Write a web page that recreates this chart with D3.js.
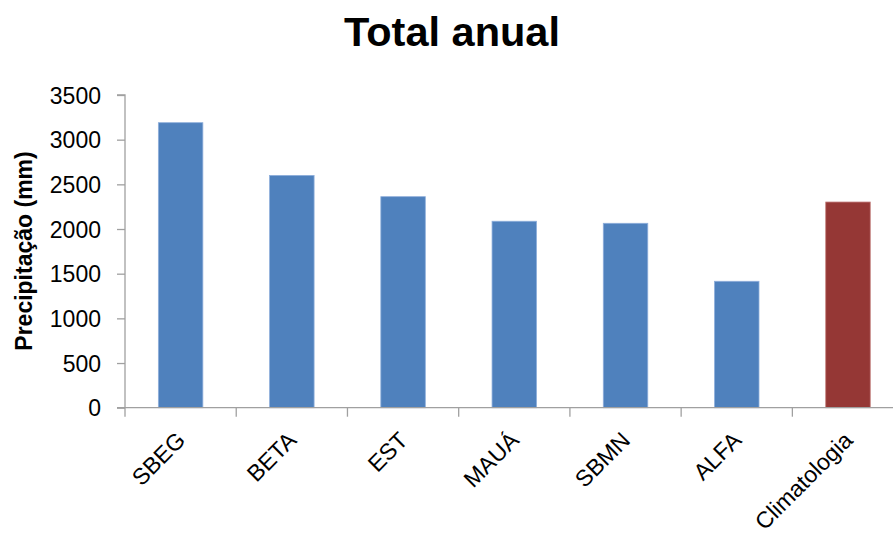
<!DOCTYPE html>
<html>
<head>
<meta charset="utf-8">
<script src="https://cdn.jsdelivr.net/npm/d3@7/dist/d3.min.js"></script>
<style>
  html, body { margin: 0; padding: 0; background: #fff; }
  svg { display: block; }
</style>
</head>
<body>
<svg id="chart" width="893" height="534"></svg>
<script>
const categories = ["SBEG", "BETA", "EST", "MAUÁ", "SBMN", "ALFA", "Climatologia"];
const values = [3190, 2600, 2362, 2087, 2064, 1415, 2302];
const barColors = ["#4F81BD", "#4F81BD", "#4F81BD", "#4F81BD", "#4F81BD", "#4F81BD", "#953735"];
const yTicks = [0, 500, 1000, 1500, 2000, 2500, 3000, 3500];
const title = "Total anual";
const yLabel = "Precipitação (mm)";

(function () {
const svg = d3.select("#chart");
const font = "'Liberation Sans', Arial, sans-serif";

const pLeft = 125, pRight = 903.6, pTop = 95, pBottom = 407.7;

const x = d3.scaleBand().domain(categories).range([pLeft, pRight]).paddingInner(0.6).paddingOuter(0.3);
const y = d3.scaleLinear().domain([0, 3500]).range([pBottom, pTop]);

// bars
svg.append("g").selectAll("rect").data(categories).join("rect")
  .attr("x", d => x(d))
  .attr("width", x.bandwidth())
  .attr("y", (d, i) => y(values[i]))
  .attr("height", (d, i) => y(0) - y(values[i]))
  .attr("fill", (d, i) => barColors[i])
  .attr("stroke", (d, i) => i === 6 ? "#c07a78" : "#8eaedb")
  .attr("stroke-width", 0.8);

// y axis
const yAxis = d3.axisLeft(y).tickValues(yTicks).tickSize(8).tickPadding(16).tickFormat(d3.format("d"));
const gy = svg.append("g").attr("transform", `translate(${pLeft},0)`).call(yAxis);
gy.select(".domain").attr("stroke", "#a0a0a0").attr("stroke-width", 1.3).attr("d", `M-8,${pTop}H0V${pBottom}`);
gy.selectAll(".tick line").attr("stroke", "#a0a0a0").attr("stroke-width", 1.3);
gy.selectAll(".tick text").attr("font-family", font).attr("font-size", 23).attr("fill", "#000").attr("dy", "0.36em");

// x axis
const xAxisG = svg.append("g").attr("transform", `translate(0,${pBottom})`);
xAxisG.append("line").attr("x1", pLeft - 8).attr("x2", 893).attr("y1", 0).attr("y2", 0)
  .attr("stroke", "#a0a0a0").attr("stroke-width", 1.3);
const boundaries = d3.range(categories.length + 1).map(i => pLeft + i * (pRight - pLeft) / categories.length);
xAxisG.selectAll("line.tk").data(boundaries).join("line").attr("class", "tk")
  .attr("x1", d => d).attr("x2", d => d).attr("y1", 0).attr("y2", 9)
  .attr("stroke", "#a0a0a0").attr("stroke-width", 1.3);
xAxisG.selectAll("text").data(categories).join("text")
  .attr("transform", d => `translate(${x(d) + x.bandwidth() / 2 + 6},${34}) rotate(-45)`)
  .attr("text-anchor", "end")
  .attr("font-family", font)
  .attr("font-size", 23)
  .attr("fill", "#000")
  .text(d => d);

// title
svg.append("text").attr("x", 452).attr("y", 46).attr("text-anchor", "middle")
  .attr("font-family", font).attr("font-weight", "bold").attr("font-size", 41.5).attr("fill", "#000")
  .text(title);

// y label
svg.append("text").attr("transform", "translate(32,251) rotate(-90)").attr("text-anchor", "middle")
  .attr("font-family", font).attr("font-weight", "bold").attr("font-size", 23).attr("fill", "#000")
  .text(yLabel);
})();
</script>
</body>
</html>
